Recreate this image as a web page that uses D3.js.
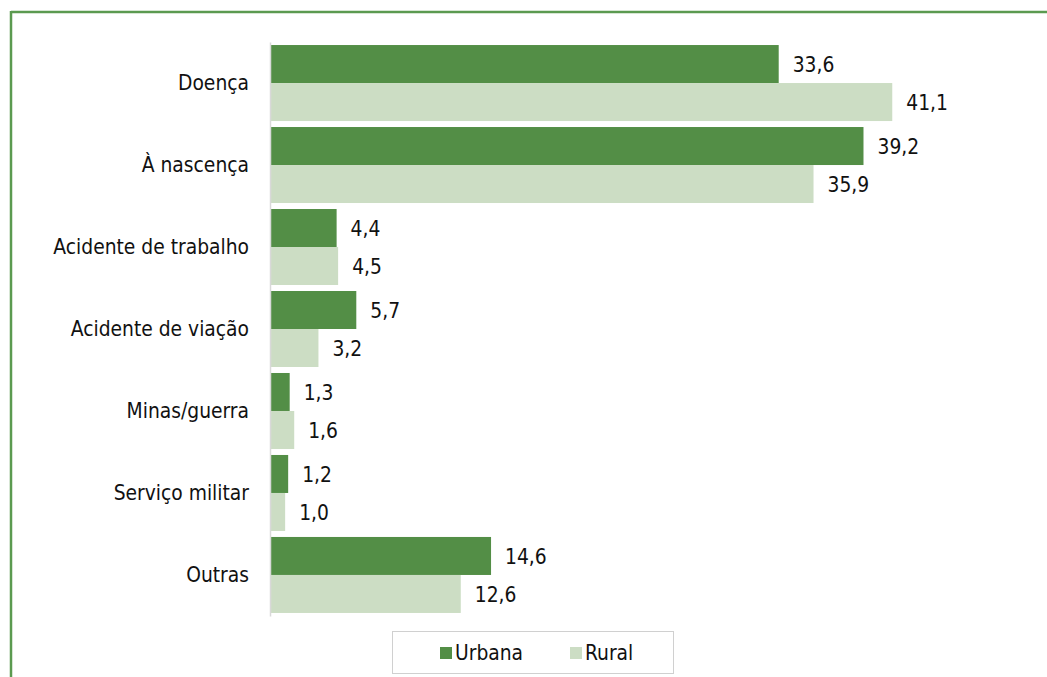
<!DOCTYPE html>
<html>
<head>
<meta charset="utf-8">
<script src="https://cdn.jsdelivr.net/npm/d3@7"></script>
<style>
  html, body { margin: 0; padding: 0; background: #fff; }
  svg { display: block; }
  text { font-family: "DejaVu Sans Condensed", "DejaVu Sans", Verdana, sans-serif; fill: #111; }
</style>
</head>
<body>
<svg id="chart" width="1047" height="677"></svg>
<script>
// Causas da deficiência por área de residência (%)
const categories = ["Doença", "À nascença", "Acidente de trabalho", "Acidente de viação", "Minas/guerra", "Serviço militar", "Outras"];
const seriesNames = ["Urbana", "Rural"];
const urbana = [33.6, 39.2, 4.4, 5.7, 1.3, 1.2, 14.6];
const rural  = [41.1, 35.9, 4.5, 3.2, 1.6, 1.0, 12.6];
const colors = ["#538e46", "#ccddc4"];

const FONT = '"DejaVu Sans Condensed", "DejaVu Sans", Verdana, sans-serif';
const FS = 20.8;

const svg = d3.select("#chart");
const W = 1047, H = 677;

// frame lines (top and left)
svg.append("line").attr("x1", 11).attr("x2", W).attr("y1", 12).attr("y2", 12)
  .attr("stroke", "#5b9a50").attr("stroke-width", 2.5);
svg.append("line").attr("x1", 11).attr("x2", 11).attr("y1", 11).attr("y2", H)
  .attr("stroke", "#5b9a50").attr("stroke-width", 2.5);

const plot = { left: 270, top: 42, bottom: 616 };
const x = d3.scaleLinear().domain([0, 45]).range([plot.left, plot.left + 45 * 15.14]);
const y0 = d3.scaleBand().domain(categories).range([plot.top, plot.bottom]).paddingInner(0.073).paddingOuter(0.037);
const y1 = d3.scaleBand().domain(seriesNames).range([0, y0.bandwidth()]);

const data = categories.map((c, i) => ({ cat: c, vals: [urbana[i], rural[i]] }));

const groups = svg.append("g").selectAll("g").data(data).join("g")
  .attr("transform", d => `translate(0,${y0(d.cat)})`);

groups.selectAll("rect").data(d => d.vals.map((v, k) => ({ v, s: seriesNames[k], k })))
  .join("rect")
  .attr("x", x(0))
  .attr("y", d => y1(d.s))
  .attr("width", d => x(d.v) - x(0))
  .attr("height", y1.bandwidth())
  .attr("fill", d => colors[d.k]);

const fmt = v => d3.format(".1f")(v).replace(".", ",");
groups.selectAll("text.val").data(d => d.vals.map((v, k) => ({ v, s: seriesNames[k], k })))
  .join("text").attr("class", "val")
  .attr("x", d => x(d.v) + 14)
  .attr("y", d => y1(d.s) + y1.bandwidth() / 2 + 1)
  .attr("dy", "0.35em")
  .attr("font-size", FS)
  .text(d => fmt(d.v));

// category axis
const yAxis = svg.append("g").attr("transform", `translate(${plot.left},0)`)
  .call(d3.axisLeft(y0).tickSize(0).tickPadding(21));
yAxis.select(".domain").attr("stroke", "#d9d9d9").attr("stroke-width", 1.5);
yAxis.selectAll("text").attr("font-size", FS).attr("fill", "#111")
  .attr("font-family", FONT);

// legend
const leg = svg.append("g");
leg.append("rect").attr("x", 392.5).attr("y", 631.5).attr("width", 281).attr("height", 42)
  .attr("fill", "#fff").attr("stroke", "#d0d0d0").attr("stroke-width", 1);
const legX = [440, 570];
seriesNames.forEach((s, k) => {
  leg.append("rect").attr("x", legX[k]).attr("y", 647).attr("width", 12).attr("height", 12).attr("fill", colors[k]);
  leg.append("text").attr("x", legX[k] + 15).attr("y", 653).attr("dy", "0.35em")
    .attr("font-size", FS).text(s);
});
</script>
</body>
</html>
